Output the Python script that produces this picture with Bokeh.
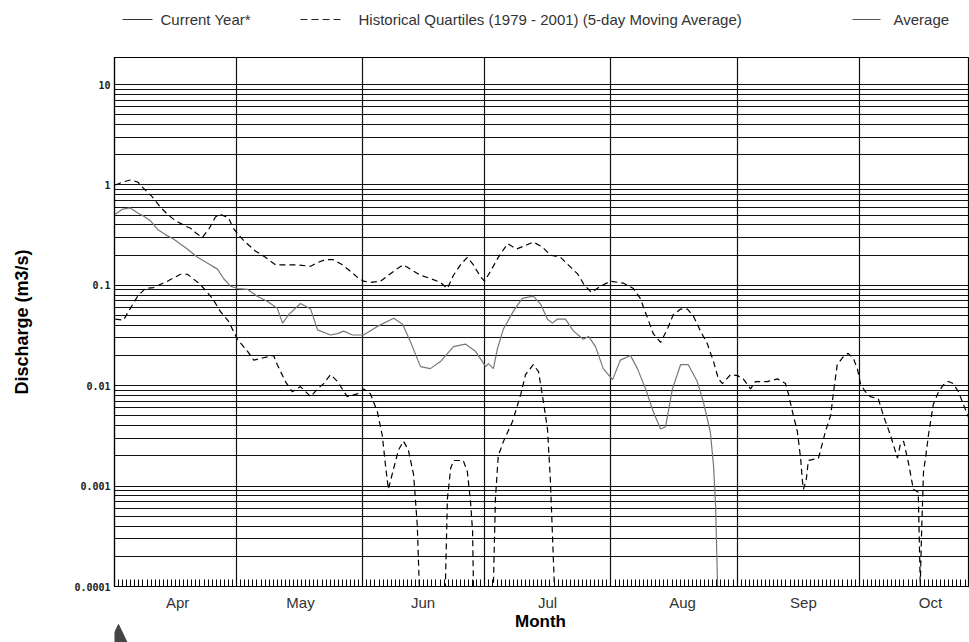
from bokeh.plotting import figure
from bokeh.layouts import column
from bokeh.models import Range1d, FixedTicker
from bokeh.core.properties import value
from bokeh.embed import file_html
from bokeh.resources import INLINE

# x = days since 1 April, y = discharge (m3/s)
upper_days = [0.2, 2.0, 3.9, 5.7, 7.1, 9.3, 11.3, 13.0, 15.0, 17.4, 18.7, 20.1, 21.6, 23.3, 24.8, 26.0,
              28.0, 29.2, 30.2, 31.7, 34.6, 37.1, 39.6, 41.5, 44.5, 48.2, 50.1, 51.8, 53.8, 56.0, 58.0,
              59.7, 61.2, 62.9, 65.4, 67.3, 69.3, 71.0, 72.7, 75.2, 77.6, 80.1, 81.8, 83.3, 85.0, 86.7,
              88.2, 89.7, 90.9, 92.4, 94.3, 96.6, 98.8, 100.5, 102.9, 105.2, 107.1, 109.6, 111.5, 113.8,
              115.5, 117.2, 119.4, 121.9, 125.1, 127.5, 129.2, 131.0, 132.4, 134.2, 135.9, 137.3, 139.1,
              140.8, 142.3, 144.0, 145.7, 147.2, 148.4, 149.4, 151.4, 153.1, 154.5, 156.3, 157.5, 160.4,
              162.9, 164.9, 165.6, 166.6, 167.8, 168.6, 169.0, 169.3, 170.0, 170.5, 173.0, 174.7, 176.0,
              176.7, 177.6, 179.1, 180.3, 181.6, 182.6, 183.3, 184.5, 185.7, 187.7, 188.9, 190.7, 192.4,
              193.1, 193.9, 195.1, 196.3, 197.5, 197.8, 198.0, 198.3, 198.8, 199.3, 200.0, 201.2, 202.5,
              203.7, 204.9, 206.1, 207.4, 208.6, 210.1]
upper_vals = [1.0, 1.07, 1.12, 1.07, 0.93, 0.76, 0.60, 0.51, 0.44, 0.39, 0.37, 0.33, 0.30, 0.37, 0.48, 0.51,
              0.47, 0.37, 0.33, 0.28, 0.22, 0.19, 0.16, 0.16, 0.16, 0.155, 0.17, 0.18, 0.18, 0.16, 0.138,
              0.12, 0.11, 0.107, 0.11, 0.126, 0.145, 0.16, 0.145, 0.126, 0.117, 0.107, 0.093, 0.126, 0.16, 0.19,
              0.16, 0.126, 0.11, 0.138, 0.19, 0.26, 0.23, 0.245, 0.27, 0.24, 0.20, 0.19, 0.16, 0.13,
              0.10, 0.085, 0.098, 0.11, 0.105, 0.093, 0.074, 0.047, 0.033, 0.027, 0.037, 0.051, 0.058,
              0.058, 0.049, 0.035, 0.026, 0.0174, 0.0117, 0.0105, 0.0129, 0.0126, 0.0117, 0.0093, 0.011, 0.011,
              0.0117, 0.0105, 0.0083, 0.0055, 0.0035, 0.0019, 0.00117, 0.00093, 0.00117, 0.0018, 0.0019, 0.0035, 0.0051,
              0.0087, 0.0162, 0.0195, 0.021, 0.0186, 0.0145, 0.0105, 0.0087, 0.0078, 0.0074, 0.0051, 0.0032, 0.0019,
              0.0026, 0.0028, 0.0017, 0.00093, 0.00087, 0.00025, 0.0001, 0.00032, 0.0014, 0.0019, 0.0032, 0.0065, 0.0087,
              0.0102, 0.011, 0.0105, 0.0087, 0.0065, 0.0046]

lower_days = [0.2, 2.2, 3.9, 5.7, 7.6, 9.6, 13.0, 16.2, 17.9, 21.1, 24.1, 26.0, 28.0, 30.2, 32.7, 34.2,
              36.6, 39.1, 40.0, 42.0, 43.7, 45.7, 48.2, 49.9, 51.4, 53.1, 54.8, 57.2, 59.7, 61.2, 62.9,
              64.6, 65.8, 66.6, 67.3, 68.6, 69.8, 71.0, 72.2, 73.5, 74.4, 74.9, 81.3, 81.8, 82.6, 83.3,
              85.7, 86.7, 87.5, 88.0, 88.2, 93.1, 93.6, 94.3, 95.6, 97.8, 99.8, 101.0, 102.9, 104.2, 105.4,
              106.4, 107.1, 108.1, 210.1]
lower_vals = [0.046, 0.045, 0.059, 0.078, 0.093, 0.095, 0.11, 0.129, 0.129, 0.102, 0.074, 0.055, 0.044, 0.029, 0.022, 0.018,
              0.019, 0.020, 0.0162, 0.011, 0.0087, 0.0098, 0.0078, 0.0093, 0.0105, 0.0129, 0.011, 0.0078, 0.0083, 0.0093, 0.0083,
              0.0055, 0.0032, 0.0016, 0.00093, 0.0015, 0.0023, 0.0028, 0.0023, 0.0013, 0.00041, 0.0001, 0.0001, 0.00074, 0.0015, 0.0018,
              0.0018, 0.0014, 0.00069, 0.00035, 0.0001, 0.0001, 0.00074, 0.002, 0.0028, 0.0044, 0.0081, 0.0129, 0.0162, 0.0138, 0.0069,
              0.0037, 0.00117, 0.0001, 0.0001]

avg_days = [0.2, 2.0, 3.9, 5.7, 7.1, 8.8, 10.6, 12.5, 14.5, 17.9, 20.4, 22.9, 25.3, 26.8, 28.5, 30.2,
            32.7, 35.1, 37.6, 40.0, 41.3, 42.8, 45.7, 48.2, 49.9, 53.1, 54.8, 56.3, 58.5, 61.2, 64.6,
            68.6, 70.8, 72.7, 75.2, 77.6, 80.1, 83.3, 86.2, 88.7, 90.4, 91.2, 91.9, 93.1, 94.1, 95.6,
            98.0, 100.2, 102.9, 104.7, 106.4, 107.6, 108.8, 110.8, 112.8, 115.2, 116.5, 118.2, 120.1, 122.4,
            124.3, 126.8, 128.5, 130.5, 132.4, 134.2, 135.4, 137.1, 139.1, 141.0, 143.2, 144.7, 146.4,
            147.2, 147.7, 148.2, 210.1]
avg_vals = [0.51, 0.575, 0.59, 0.525, 0.49, 0.44, 0.36, 0.32, 0.29, 0.23, 0.19, 0.166, 0.145, 0.117, 0.098, 0.093,
            0.091, 0.078, 0.069, 0.059, 0.042, 0.051, 0.066, 0.058, 0.036, 0.032, 0.033, 0.035, 0.032, 0.032, 0.039,
            0.047, 0.041, 0.0275, 0.0155, 0.0148, 0.0174, 0.0245, 0.026, 0.022, 0.0174, 0.0155, 0.0166, 0.0148, 0.0234, 0.037,
            0.055, 0.074, 0.078, 0.065, 0.046, 0.042, 0.046, 0.046, 0.035, 0.029, 0.031, 0.0245, 0.0148, 0.0115,
            0.018, 0.020, 0.0148, 0.0093, 0.0055, 0.0037, 0.0039, 0.0093, 0.0162, 0.0162, 0.011, 0.0069, 0.0035,
            0.0016, 0.00065, 0.0001, 0.0001]

current_days = []
current_vals = []

month_starts = [30, 61, 91, 122, 153, 183]
month_label_days = [15.5, 45.7, 75.8, 106.4, 139.6, 169.3, 200.5]
month_labels = ["Apr", "May", "Jun", "Jul", "Aug", "Sep", "Oct"]
y_tick_vals = [0.0001, 0.001, 0.01, 0.1, 1, 10]
y_tick_labels = ["0.0001", "0.001", "0.01", "0.1", "1", "10"]
legend_labels = ["Current Year*",
                 "Historical Quartiles (1979  -  2001)  (5-day Moving Average)",
                 "Average"]
x_title = "Month"
y_title = "Discharge (m3/s)"


def strip(height):
    """A bare figure whose x coordinates are page pixels (frame aligned with the chart)."""
    f = figure(width=969, height=height, x_range=Range1d(114, 969), y_range=Range1d(height, 0),
               output_backend="svg", toolbar_location=None,
               min_border_left=114, min_border_right=0, min_border_top=0, min_border_bottom=0)
    f.axis.visible = False
    f.grid.visible = False
    f.outline_line_color = None
    return f


# ---------------- legend strip (header) ----------------
head = strip(56)
head.line([122, 152], [19, 19], line_color="#333333", line_width=1.2)
head.line([300, 344], [19, 19], line_color="#222222", line_width=1.2, line_dash="7 4")
head.line([852, 880], [19, 19], line_color="#555555", line_width=1.2)
head.text(x=[160, 358, 893], y=[19, 19, 19], text=legend_labels,
          text_font=value("Liberation Sans"), text_font_size="15px", text_color="#333333",
          text_baseline="middle", text_align="left")

# ---------------- main chart ----------------
p = figure(frame_width=855, frame_height=529, y_axis_type="log",
           x_range=Range1d(0, 210.1), y_range=Range1d(0.0001, 18.6),
           output_backend="svg", toolbar_location=None,
           min_border_left=114, min_border_right=0, min_border_top=1, min_border_bottom=26)

p.outline_line_color = "black"
p.outline_line_width = 1.2

grid_vals = [k * 10.0 ** n for n in range(-4, 2) for k in range(1, 10)]
p.ygrid.ticker = FixedTicker(ticks=grid_vals)
p.ygrid.grid_line_color = "#111111"
p.ygrid.grid_line_width = 1.2
p.xgrid.ticker = FixedTicker(ticks=month_starts)
p.xgrid.grid_line_color = "#111111"
p.xgrid.grid_line_width = 1.2

# x axis
xa = p.xaxis[0]
xa.ticker = FixedTicker(ticks=month_label_days, minor_ticks=list(range(0, 211)))
xa.major_label_overrides = dict(zip(month_label_days, month_labels))
xa.major_tick_in = 0
xa.major_tick_out = 0
xa.minor_tick_in = 7
xa.minor_tick_out = 0
xa.minor_tick_line_color = "black"
xa.axis_line_color = "black"
xa.axis_line_width = 1.2
xa.major_label_text_font = "Liberation Sans"
xa.major_label_text_font_size = "15px"
xa.major_label_text_color = "#333333"
xa.major_label_standoff = 7

# y axis
ya = p.yaxis[0]
ya.ticker = FixedTicker(ticks=y_tick_vals, minor_ticks=[])
ya.major_label_overrides = dict(zip(y_tick_vals, y_tick_labels))
ya.major_tick_in = 0
ya.major_tick_out = 0
ya.minor_tick_in = 0
ya.minor_tick_out = 0
ya.axis_line_color = "black"
ya.axis_line_width = 1.2
ya.major_label_text_font = "DejaVu Sans Mono"
ya.major_label_text_font_style = "bold"
ya.major_label_text_font_size = "10px"
ya.major_label_text_color = "#222222"
ya.major_label_standoff = 4
ya.axis_label = y_title
ya.axis_label_text_font = "Liberation Sans"
ya.axis_label_text_font_style = "bold"
ya.axis_label_text_font_size = "18px"
ya.axis_label_text_color = "black"
ya.axis_label_standoff = 39

p.line(current_days, current_vals, line_color="#222222", line_width=1)
p.line(upper_days, upper_vals, line_color="black", line_width=1.2, line_dash="6 4")
p.line(lower_days, lower_vals, line_color="black", line_width=1.2, line_dash="6 4")
p.line(avg_days, avg_vals, line_color="#777777", line_width=1.2)

# ---------------- footer: x-axis title and the marker triangle ----------------
foot = strip(30)
foot.text(x=[540], y=[8], text=[x_title], text_font=value("Liberation Sans"),
          text_font_style="bold", text_font_size="17px", text_color="black",
          text_baseline="middle", text_align="center")
foot.patch([107, 118, 129], [34, 11, 34], fill_color="#444444", line_color="#444444")

layout = column(head, p, foot, spacing=0)
open("out.html", "w").write(file_html(layout, INLINE))
